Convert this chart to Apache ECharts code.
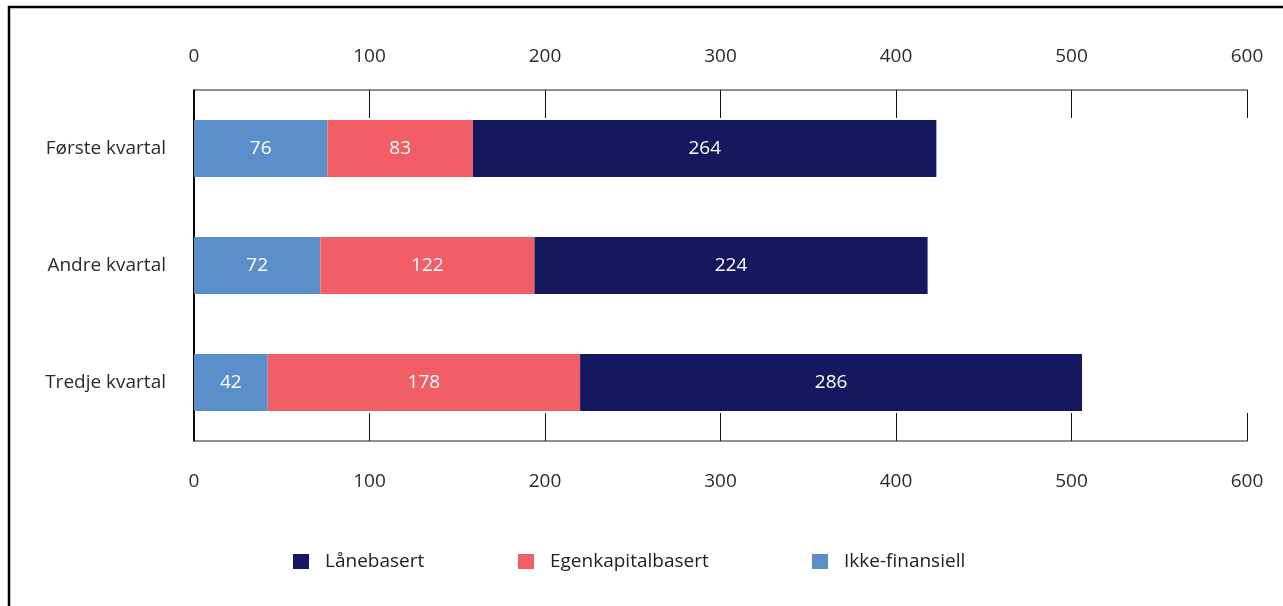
<!DOCTYPE html>
<html>
<head>
<meta charset="utf-8">
<script src="https://cdn.jsdelivr.net/npm/echarts@6/dist/echarts.min.js"></script>
<style>
html,body{margin:0;padding:0;background:#fff;}
#chart{width:1283px;height:606px;}
</style>
</head>
<body>
<div id="chart"></div>
<script>
const categories = ['Første kvartal', 'Andre kvartal', 'Tredje kvartal'];
const ikkeFinansiell = [76, 72, 42];
const egenkapitalbasert = [83, 122, 178];
const lanebasert = [264, 224, 286];
const seriesNames = ['Lånebasert', 'Egenkapitalbasert', 'Ikke-finansiell'];
const axisMin = 0, axisMax = 600, axisStep = 100;

const FONT = '"Open Sans", sans-serif';
const colors = { 'Lånebasert': '#13185f', 'Egenkapitalbasert': '#f15e65', 'Ikke-finansiell': '#5b8fca' };

const chart = echarts.init(document.getElementById('chart'), null, { renderer: 'canvas' });

function xAx(pos, margin) {
  return {
    type: 'value', position: pos, min: axisMin, max: axisMax, interval: axisStep,
    axisLine: { show: true, lineStyle: { color: '#6b6b6b', width: 1.5 } },
    axisTick: { show: true, inside: true, length: 28, lineStyle: { color: '#111', width: 1 } },
    axisLabel: { show: true, margin: margin, color: '#2b2b2b', fontSize: 19, fontFamily: FONT },
    splitLine: { show: false }
  };
}

function legendAt(name, left) {
  return {
    data: [name], left: left, top: 552, padding: 0, itemWidth: 16, itemHeight: 15, itemGap: 16,
    icon: 'rect', selectedMode: false,
    textStyle: { color: '#222', fontSize: 19, fontFamily: FONT, padding: [0, 0, 0, 11] }
  };
}

const labelStyle = { show: true, position: 'inside', color: '#fff', fontSize: 19, fontFamily: FONT };

chart.setOption({
  animation: false,
  backgroundColor: '#fff',
  graphic: [{
    type: 'rect', shape: { x: 9, y: 7, width: 1400, height: 800 },
    style: { fill: 'none', stroke: '#000', lineWidth: 2.5 }, silent: true
  }],
  grid: { left: 194, right: 36, top: 90, bottom: 165, containLabel: false },
  legend: [
    legendAt(seriesNames[0], 293),
    legendAt(seriesNames[1], 518),
    legendAt(seriesNames[2], 812)
  ],
  xAxis: [xAx('top', 24), xAx('bottom', 31)],
  yAxis: {
    type: 'category', data: categories, inverse: true,
    axisLine: { show: true, lineStyle: { color: '#000', width: 2 } },
    axisTick: { show: false },
    axisLabel: { margin: 28, color: '#2b2b2b', fontSize: 19, fontFamily: FONT }
  },
  series: [
    { name: 'Ikke-finansiell', type: 'bar', stack: 'a', data: ikkeFinansiell, barWidth: 57, itemStyle: { color: colors['Ikke-finansiell'] }, label: labelStyle },
    { name: 'Egenkapitalbasert', type: 'bar', stack: 'a', data: egenkapitalbasert, barWidth: 57, itemStyle: { color: colors['Egenkapitalbasert'] }, label: labelStyle },
    { name: 'Lånebasert', type: 'bar', stack: 'a', data: lanebasert, barWidth: 57, itemStyle: { color: colors['Lånebasert'] }, label: labelStyle }
  ]
});
</script>
</body>
</html>
